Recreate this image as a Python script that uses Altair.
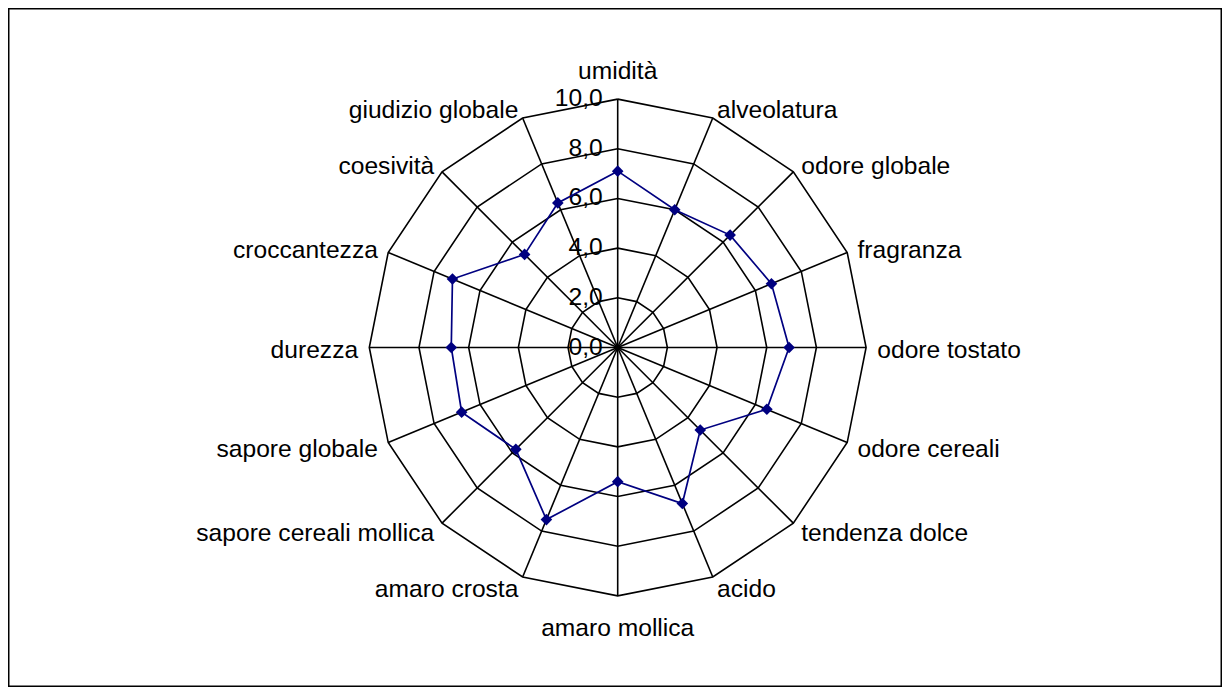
import altair as alt
import pandas as pd

categories = ["umidità", "alveolatura", "odore globale", "fragranza", "odore tostato",
              "odore cereali", "tendenza dolce", "acido", "amaro mollica", "amaro crosta",
              "sapore cereali mollica", "sapore globale", "durezza", "croccantezza",
              "coesività", "giudizio globale"]
values = [7.1, 6.0, 6.4, 6.7, 6.9, 6.5, 4.7, 6.8, 5.4, 7.5, 5.8, 6.8, 6.7, 7.2, 5.3, 6.3]
ring_levels = [2, 4, 6, 8, 10]
tick_values = [0, 2, 4, 6, 8, 10]
tick_labels = ["0,0", "2,0", "4,0", "6,0", "8,0", "10,0"]

N = len(categories)
W, H = 1214, 679
UNIT = 24.84  # px per value unit
CX, CY = 609.7, 339.5
xs = alt.Scale(domain=[-CX / UNIT, (W - CX) / UNIT], nice=False, zero=False)
ys = alt.Scale(domain=[-(H - CY) / UNIT, CY / UNIT], nice=False, zero=False)
FONT = "Liberation Sans"
FS = 24.6
NAVY = "#000080"

rings = pd.DataFrame([{"r": r, "idx": k % N, "ord": k} for r in ring_levels for k in range(N + 1)])
series = pd.DataFrame([{"cat": categories[k % N], "v": values[k % N], "idx": k % N, "ord": k}
                       for k in range(N + 1)])
cats = pd.DataFrame({"cat": categories, "idx": list(range(N))})
ticks = pd.DataFrame({"v": tick_values, "lab": tick_labels})

ang = "2*PI*datum.idx/%d" % N

X = alt.X("x:Q", scale=xs, axis=None)
Y = alt.Y("y:Q", scale=ys, axis=None)

ring_layer = alt.Chart(rings).transform_calculate(
    x="datum.r*sin(%s)" % ang, y="datum.r*cos(%s)" % ang
).mark_line(color="black", strokeWidth=1.6).encode(
    x=X, y=Y, detail="r:N", order="ord:Q"
)

spoke_layer = alt.Chart(cats).transform_calculate(
    x0="0", y0="0", x="10*sin(%s)" % ang, y="10*cos(%s)" % ang
).mark_rule(color="black", strokeWidth=1.6).encode(
    x=alt.X("x0:Q", scale=xs, axis=None), y=alt.Y("y0:Q", scale=ys, axis=None),
    x2="x:Q", y2="y:Q"
)

tick_layer = alt.Chart(ticks).transform_calculate(x="0", y="datum.v").mark_text(
    align="right", baseline="middle", dx=-15, font=FONT, fontSize=FS, color="black"
).encode(x=X, y=Y, text="lab:N")

series_line = alt.Chart(series).transform_calculate(
    x="datum.v*sin(%s)" % ang, y="datum.v*cos(%s)" % ang
).mark_line(color=NAVY, strokeWidth=1.7).encode(x=X, y=Y, order="ord:Q")

series_pts = alt.Chart(series).transform_filter("datum.ord < %d" % N).transform_calculate(
    x="datum.v*sin(%s)" % ang, y="datum.v*cos(%s)" % ang
).mark_point(shape="diamond", filled=True, color=NAVY, size=135, opacity=1).encode(x=X, y=Y)


def label_layer(flt, align):
    return alt.Chart(cats).transform_filter(flt).transform_calculate(
        x="10.45*sin(%s)" % ang,
        y="10.45*cos(%s) + (abs(sin(%s)) < 0.01 ? 0.75*cos(%s) : 0)" % (ang, ang, ang)
    ).mark_text(align=align, baseline="middle", dy=3, font=FONT, fontSize=FS,
                color="black").encode(x=X, y=Y, text="cat:N")


lab_r = label_layer("datum.idx > 0 && datum.idx < %d" % (N // 2), "left")
lab_l = label_layer("datum.idx > %d" % (N // 2), "right")
lab_c = label_layer("datum.idx == 0 || datum.idx == %d" % (N // 2), "center")

chart = alt.layer(
    ring_layer, spoke_layer, tick_layer, series_line, series_pts, lab_r, lab_l, lab_c
).properties(
    width=W, height=H, padding=0,
    autosize=alt.AutoSizeParams(type="fit", contains="padding"),
    background="white"
).configure_view(stroke="black", strokeWidth=3)

chart.save("out.html", embed_options={"renderer": "svg", "actions": False})
